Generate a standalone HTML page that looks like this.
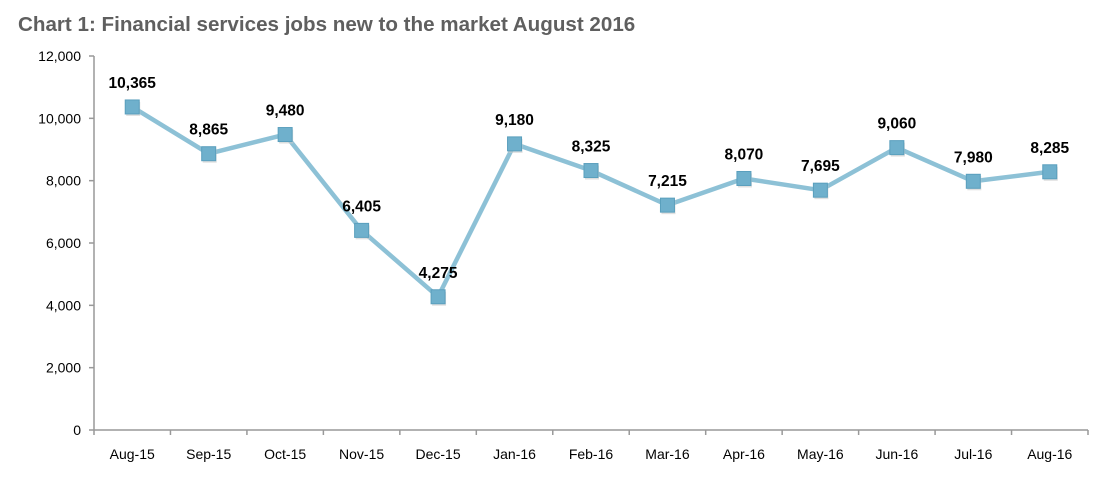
<!DOCTYPE html>
<html><head><meta charset="utf-8"><style>
body{margin:0;background:#fff;width:1113px;height:484px;overflow:hidden;font-family:"Liberation Sans",sans-serif}
</style></head><body>
<svg width="1113" height="484">
<text x="18" y="31" font-size="20.6" font-weight="bold" fill="#5f5f5f">Chart 1: Financial services jobs new to the market August 2016</text>
<g id="axes"></g><g id="marks"></g>
</svg>
<script>
const categories=["Aug-15","Sep-15","Oct-15","Nov-15","Dec-15","Jan-16","Feb-16","Mar-16","Apr-16","May-16","Jun-16","Jul-16","Aug-16"];
const values=[10365,8865,9480,6405,4275,9180,8325,7215,8070,7695,9060,7980,8285];
const valueLabels=["10,365","8,865","9,480","6,405","4,275","9,180","8,325","7,215","8,070","7,695","9,060","7,980","8,285"];
const yTicks=[0,2000,4000,6000,8000,10000,12000];
const yTickLabels=["0","2,000","4,000","6,000","8,000","10,000","12,000"];
const NS="http://www.w3.org/2000/svg";
const x0=94,x1=1088,y0=430,yTop=56,yMax=12000;
const band=(x1-x0)/categories.length;
const xs=i=>x0+band*(i+0.5);
const ys=v=>y0-(v/yMax)*(y0-yTop);
function mk(t,a,p){const e=document.createElementNS(NS,t);for(const k in a)e.setAttribute(k,a[k]);p.appendChild(e);return e;}
const ax=document.getElementById('axes'),mg=document.getElementById('marks');
let l=mk('line',{x1:x0,y1:yTop,x2:x0,y2:y0,stroke:'#999','stroke-width':1.5},ax);


l=mk('line',{x1:x0,y1:y0,x2:x1,y2:y0,stroke:'#999','stroke-width':1.5},ax);


yTicks.forEach((v,i)=>{
 mk('line',{x1:x0-5,y1:ys(v),x2:x0,y2:ys(v),stroke:'#999','stroke-width':1.5},ax);
 const t=mk('text',{x:x0-13,y:ys(v)+5,'text-anchor':'end','font-size':14,fill:'#000'},ax);
 t.textContent=yTickLabels[i];
 
 
});
for(let i=0;i<=categories.length;i++){mk('line',{x1:x0+band*i,y1:y0,x2:x0+band*i,y2:y0+5,stroke:'#999','stroke-width':1.5},ax);}
categories.forEach((c,i)=>{
 const t=mk('text',{x:xs(i),y:459,'text-anchor':'middle','font-size':14,fill:'#000'},ax);
 t.textContent=c;
 
 
});
const pl=mk('polyline',{points:values.map((v,i)=>xs(i)+','+ys(v)).join(' '),fill:'none',stroke:'#8dc1d6','stroke-width':4.5,'stroke-linejoin':'round'},mg);


values.forEach((v,i)=>{
 mk('rect',{x:xs(i)-6,y:ys(v)-5,width:14,height:14,fill:'#ccc',opacity:0.6},mg);
 const r=mk('rect',{x:xs(i)-7,y:ys(v)-7,width:14,height:14,fill:'#6fb0cc',stroke:'#5a9fbd','stroke-width':1},mg);
 
 
 const t=mk('text',{x:xs(i),y:ys(v)-19,'text-anchor':'middle','font-size':15.5,'font-weight':'bold',fill:'#000'},mg);
 t.textContent=valueLabels[i];
 
 
});
</script>
</body></html>
